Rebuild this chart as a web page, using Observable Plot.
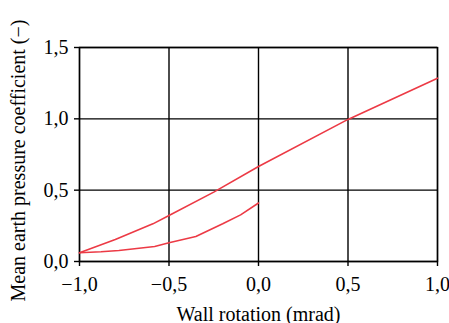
<!DOCTYPE html>
<html>
<head>
<meta charset="utf-8">
<script src="https://cdn.jsdelivr.net/npm/d3@7"></script>
<script src="https://cdn.jsdelivr.net/npm/@observablehq/plot@0.6"></script>
<style>
  html, body { margin: 0; padding: 0; background: #fff; }
</style>
</head>
<body>
<div id="chart"></div>
<script>
// Upper curve
const upperX = [-1.0, -0.8, -0.59, -0.5, -0.25, 0.0, 0.5, 1.0];
const upperY = [0.061, 0.154, 0.264, 0.323, 0.486, 0.666, 0.996, 1.285];
// Lower curve
const lowerX = [-1.0, -0.88, -0.78, -0.58, -0.5, -0.35, -0.2, -0.1, 0.0];
const lowerY = [0.061, 0.068, 0.077, 0.105, 0.131, 0.175, 0.264, 0.327, 0.41];

const xTicks = [-1.0, -0.5, 0.0, 0.5, 1.0];
const yTicks = [0.0, 0.5, 1.0, 1.5];
const xLabel = "Wall rotation (mrad)";
const yLabel = "Mean earth pressure coefficient (\u2212)";

const upper = upperX.map((x, i) => ({x, y: upperY[i]}));
const lower = lowerX.map((x, i) => ({x, y: lowerY[i]}));

const fmt = d3.formatLocale({decimal: ",", thousands: ".", grouping: [3], currency: ["", ""], minus: "\u2212"}).format(".1f");

const chart = Plot.plot({
  width: 449,
  height: 323,
  marginLeft: 79,
  marginRight: 12,
  marginTop: 47,
  marginBottom: 62,
  style: {fontFamily: "'Liberation Serif', 'DejaVu Serif', serif", fontSize: "20px", color: "#000", background: "#fff"},
  x: {domain: [-1, 1]},
  y: {domain: [0, 1.5]},
  marks: [
    Plot.gridX(xTicks, {stroke: "#000", strokeOpacity: 1, strokeWidth: 1.4}),
    Plot.gridY(yTicks, {stroke: "#000", strokeOpacity: 1, strokeWidth: 1.4}),
    Plot.axisX(xTicks, {tickFormat: fmt, tickSize: 5, tickPadding: 10, label: null, stroke: "#000", strokeWidth: 1.4, fontSize: 20}),
    Plot.axisY(yTicks, {tickFormat: fmt, tickSize: 5, tickPadding: 6, label: null, stroke: "#000", strokeWidth: 1.4, fontSize: 20}),
    Plot.frame({stroke: "#000", strokeWidth: 1.4}),
    Plot.line(upper, {x: "x", y: "y", stroke: "#ec3a45", strokeWidth: 1.6}),
    Plot.line(lower, {x: "x", y: "y", stroke: "#ec3a45", strokeWidth: 1.6}),
    Plot.text([xLabel], {frameAnchor: "bottom", dy: 59, fontSize: 20, text: d => d}),
    Plot.text([yLabel], {frameAnchor: "left", textAnchor: "middle", rotate: -90, dx: -61, dy: 6, fontSize: 20, text: d => d})
  ]
});
document.getElementById("chart").appendChild(chart);
</script>
</body>
</html>
